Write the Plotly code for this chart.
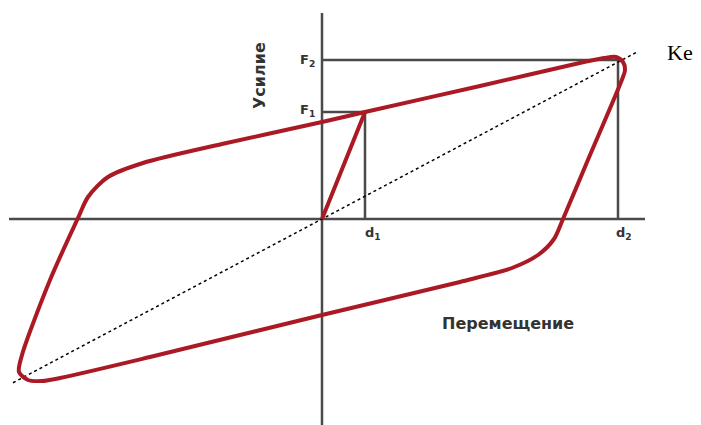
"""
Hysteresis loop of a seismic isolator: force vs displacement with effective stiffness Ke.
"""
import plotly.graph_objects as go

# diagram units (origin at the axes crossing, y up)
D1, D2 = 43, 296          # displacement marks d1, d2
F1, F2 = 107, 159         # force marks F1, F2
KE_SLOPE = 0.53           # effective stiffness line
KE_X = [-309, 315]

# initial loading branch
load_x = [0, 43]
load_y = [0, 107]

# closed hysteresis loop
loop_x = [43, 158, 262, 282, 294, 301, 303, 299, 268, 241, 232, 216, 190, 138,
          0, -172, -262, -280, -294, -303, -300, -272, -244, -234, -214, -179, -100, 0, 43]
loop_y = [107, 133, 157, 161, 162, 157, 149, 137, 64, 0, -20, -36, -49, -63,
          -96, -138, -159, -162, -161, -153, -136, -61, 1, 22, 42, 56, 75, 97, 107]

# axes extent
axis_x = [-313, 323]
axis_y = [-210, 206]

RED = "#ab1a24"
GREY = "#4a4a4a"

fig = go.Figure()

# axes
fig.add_trace(go.Scatter(x=axis_x, y=[0, 0], mode="lines",
                         line=dict(color=GREY, width=2.5)))
fig.add_trace(go.Scatter(x=[0, 0], y=axis_y, mode="lines",
                         line=dict(color=GREY, width=2.5)))

# guide lines for F1/d1 and F2/d2
fig.add_trace(go.Scatter(x=[0, D1, D1], y=[F1, F1, 0], mode="lines",
                         line=dict(color=GREY, width=2.5)))
fig.add_trace(go.Scatter(x=[0, D2, D2], y=[F2, F2, 0], mode="lines",
                         line=dict(color=GREY, width=2.5)))

# effective stiffness line
fig.add_trace(go.Scatter(x=KE_X, y=[KE_SLOPE * v for v in KE_X], mode="lines",
                         line=dict(color="black", width=1.5, dash="dot")))

# loop
fig.add_trace(go.Scatter(x=loop_x, y=loop_y, mode="lines",
                         line=dict(color=RED, width=4, shape="spline", smoothing=0.8)))
fig.add_trace(go.Scatter(x=load_x, y=load_y, mode="lines",
                         line=dict(color=RED, width=4)))

lbl = dict(family="DejaVu Sans", size=13, color="#333333")
ann = [
    dict(x=-15, y=F2, text="<b>F<sub>2</sub></b>"),
    dict(x=-15, y=F1 + 2, text="<b>F<sub>1</sub></b>"),
    dict(x=D1 + 8, y=-14, text="<b>d<sub>1</sub></b>"),
    dict(x=D2 + 6, y=-14, text="<b>d<sub>2</sub></b>"),
]
for a in ann:
    fig.add_annotation(**a, showarrow=False, font=lbl)

fig.add_annotation(x=-63, y=143, text="<b>Усилие</b>", textangle=-90,
                   showarrow=False, font=dict(family="DejaVu Sans", size=16,
                                              color="#333333"))
fig.add_annotation(x=186, y=-104, text="<b>Перемещение</b>", showarrow=False,
                   font=dict(family="DejaVu Sans", size=16, color="#333333"))
fig.add_annotation(x=358, y=167, text="Ke", showarrow=False,
                   font=dict(family="Liberation Serif, Times New Roman", size=22,
                             color="black"))

# page body adds an 8 px offset, so the figure is 8 px smaller
fig.update_layout(
    width=693, height=417,
    margin=dict(l=0, r=0, t=0, b=0),
    paper_bgcolor="white", plot_bgcolor="white",
    showlegend=False,
    xaxis=dict(range=[-314, 379], visible=False),
    yaxis=dict(range=[-206, 211], visible=False),
)

fig.write_html("out.html")
